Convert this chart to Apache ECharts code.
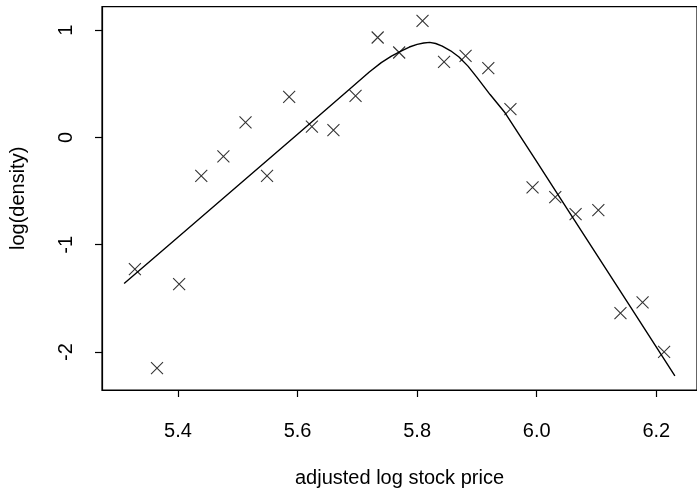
<!DOCTYPE html>
<html>
<head>
<meta charset="utf-8">
<script src="https://cdn.jsdelivr.net/npm/echarts@6/dist/echarts.min.js"></script>
<style>html,body{margin:0;padding:0;background:#fff}#c{width:697px;height:493px}</style>
</head>
<body>
<div id="c"></div>
<script>
// observed points (x = adjusted log stock price, y = log density)
var pointX = [5.328,5.365,5.402,5.439,5.476,5.513,5.549,5.586,5.624,5.660,5.697,5.734,5.770,5.809,5.845,5.881,5.919,5.956,5.993,6.031,6.065,6.103,6.140,6.177,6.213];
var pointY = [-1.227,-2.150,-1.367,-0.358,-0.177,0.140,-0.358,0.378,0.102,0.068,0.388,0.932,0.792,1.087,0.705,0.761,0.646,0.264,-0.466,-0.556,-0.715,-0.678,-1.637,-1.538,-1.998];
// fitted curve
var curveX = [5.310,5.400,5.500,5.600,5.683,5.720,5.740,5.757,5.773,5.787,5.800,5.811,5.821,5.831,5.842,5.856,5.870,5.885,5.900,5.922,5.947,5.997,6.036,6.063,6.157,6.231];
var curveY = [-1.361,-0.930,-0.450,0.030,0.430,0.610,0.698,0.758,0.805,0.843,0.868,0.881,0.886,0.876,0.852,0.808,0.750,0.665,0.560,0.400,0.230,-0.200,-0.538,-0.771,-1.582,-2.222];
var xTicks = [5.4,5.6,5.8,6.0,6.2];
var yTicks = [-2,-1,0,1];

var pts = pointX.map(function(x,i){return [x,pointY[i]];});
var crv = curveX.map(function(x,i){return [x,curveY[i]];});
var FONT = 'Liberation Sans, Arial, Helvetica, sans-serif';

var chart = echarts.init(document.getElementById('c'), null, {renderer:'canvas'});
chart.setOption({
  animation:false,
  backgroundColor:'#fff',
  grid:{left:101.7, right:-7, top:6.7, bottom:102.3, show:true, borderColor:'#000', borderWidth:1.2, containLabel:false},
  xAxis:{
    type:'value', min:5.273, max:6.268,
    name:'adjusted log stock price', nameLocation:'middle', nameGap:78,
    nameTextStyle:{fontFamily:FONT, fontSize:20, color:'#000'},
    axisLine:{show:true, onZero:false, lineStyle:{color:'#000', width:1.2}},
    axisTick:{show:true, inside:false, length:7, customValues:xTicks, lineStyle:{color:'#000', width:1.2}},
    axisLabel:{customValues:xTicks, margin:31, fontFamily:FONT, fontSize:20, color:'#000',
      formatter:function(v){return v.toFixed(1);}},
    splitLine:{show:false}
  },
  yAxis:{
    type:'value', min:-2.354, max:1.219,
    name:'log(density)', nameLocation:'middle', nameGap:74, nameRotate:90,
    nameTextStyle:{fontFamily:FONT, fontSize:20, color:'#000'},
    axisLine:{show:true, onZero:false, lineStyle:{color:'#000', width:1.2}},
    axisTick:{show:true, inside:false, length:7, customValues:yTicks, lineStyle:{color:'#000', width:1.2}},
    axisLabel:{customValues:yTicks, rotate:90, margin:26, fontFamily:FONT, fontSize:20, color:'#000',
      formatter:function(v){return String(v);}},
    splitLine:{show:false}
  },
  series:[
    {type:'line', data:crv, smooth:false, showSymbol:false, symbol:'none',
     lineStyle:{color:'#000', width:1.4, join:'round'}, z:2},
    {type:'scatter', data:pts, symbol:'path://M0,0L10,10M10,0L0,10', symbolSize:12,
     itemStyle:{color:'none', borderColor:'#000', borderWidth:1.1}, z:3}
  ]
});
</script>
</body>
</html>
